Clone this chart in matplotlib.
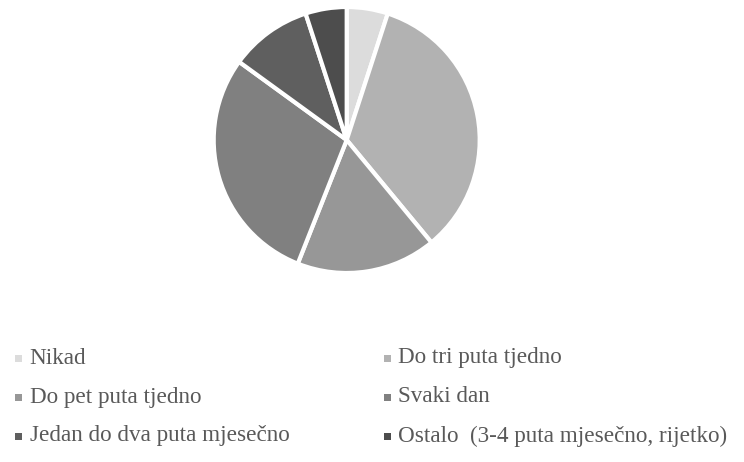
import matplotlib
matplotlib.use("Agg")
import matplotlib.pyplot as plt
from matplotlib.patches import Rectangle

labels = ["Nikad", "Do tri puta tjedno", "Do pet puta tjedno", "Svaki dan",
          "Jedan do dva puta mjesečno", "Ostalo  (3-4 puta mjesečno, rijetko)"]
values = [5, 34, 17, 29, 10, 5]
colors = ["#dcdcdc", "#b2b2b2", "#979797", "#808080", "#5f5f5f", "#4d4d4d"]

W, H = 744, 462
fig = plt.figure(figsize=(W / 100, H / 100), dpi=100)
fig.patch.set_facecolor("white")

cx, cy, r = 346.7, 140, 133
ax = fig.add_axes([(cx - r) / W, (H - cy - r) / H, 2 * r / W, 2 * r / H])
ax.pie(values, colors=colors, startangle=90, counterclock=False,
       wedgeprops=dict(edgecolor="white", linewidth=3))
ax.set_xlim(-1, 1)
ax.set_ylim(-1, 1)
ax.set_aspect("equal")
ax.axis("off")

# legend, row-wise in two columns
col_x = [15, 384]
row_y = [358, 397, 436]
for i, lab in enumerate(labels):
    col = i % 2
    row = i // 2
    x = col_x[col]
    y = row_y[row]
    fig.patches.append(Rectangle((x / W, (H - y - 3.5) / H), 7 / W, 7 / H,
                                 transform=fig.transFigure, facecolor=colors[i],
                                 edgecolor="none"))
    fig.text((x + 14.5) / W, (H - y) / H, lab, fontsize=16.7, family="Liberation Serif",
             color="#595959", va="center", ha="left")

fig.savefig("out.png", dpi=100, facecolor="white")
